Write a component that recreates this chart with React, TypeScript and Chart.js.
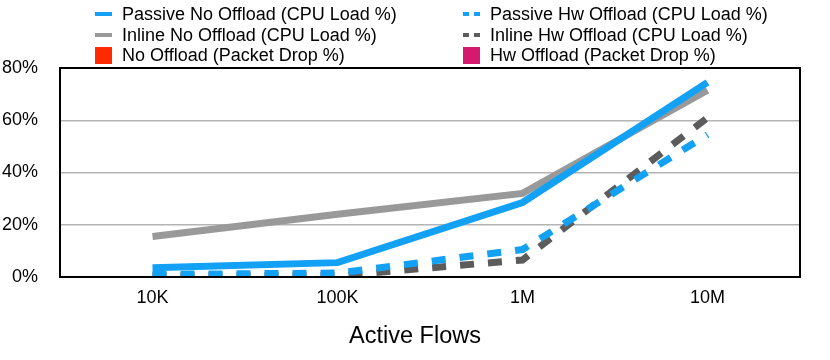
import React, { useEffect, useRef } from "react";
import { Chart, registerables } from "chart.js";

Chart.register(...registerables);

const categories = ["10K", "100K", "1M", "10M"];
const passiveNoOffload = [3.5, 5.5, 28.5, 74.5];
const passiveHwOffload = [1, 1.5, 10.5, 54.5];
const inlineNoOffload = [15.5, 24, 32, 71.5];
const inlineHwOffload = [0.5, 0.5, 6.5, 61];
const noOffloadDrop = [0, 0, 0, 0];
const hwOffloadDrop = [0, 0, 0, 0];
const yTicks = [0, 20, 40, 60, 80];
const xTitle = "Active Flows";

const FONT = "'Liberation Sans', Arial, Helvetica, sans-serif";
const BLUE = "#12A1F4";
const GRAY = "#999999";
const DARK = "#5c5c5c";
const RED = "#FF2A00";
const MAGENTA = "#D6196F";

type LegendItem = { label: string; color: string; kind: "line" | "dash" | "box" };

const legendCol1: LegendItem[] = [
  { label: "Passive No Offload (CPU Load %)", color: BLUE, kind: "line" },
  { label: "Inline No Offload (CPU Load %)", color: GRAY, kind: "line" },
  { label: "No Offload (Packet Drop %)", color: RED, kind: "box" },
];
const legendCol2: LegendItem[] = [
  { label: "Passive Hw Offload (CPU Load %)", color: BLUE, kind: "dash" },
  { label: "Inline Hw Offload (CPU Load %)", color: DARK, kind: "dash" },
  { label: "Hw Offload (Packet Drop %)", color: MAGENTA, kind: "box" },
];

function Marker({ item }: { item: LegendItem }) {
  if (item.kind === "box") {
    return <div style={{ width: 17, height: 17, background: item.color }} />;
  }
  if (item.kind === "dash") {
    return (
      <div style={{ width: 17, height: 4, display: "flex", justifyContent: "space-between" }}>
        <div style={{ width: 6, height: 4, background: item.color }} />
        <div style={{ width: 6, height: 4, background: item.color }} />
      </div>
    );
  }
  return <div style={{ width: 17, height: 4, background: item.color }} />;
}

function LegendColumn({ items, left }: { items: LegendItem[]; left: number }) {
  return (
    <div style={{ position: "absolute", left, top: 4 }}>
      {items.map((it) => (
        <div key={it.label} style={{ display: "flex", alignItems: "center", height: 20.5 }}>
          <div style={{ width: 27, display: "flex", alignItems: "center" }}>
            <Marker item={it} />
          </div>
          <span style={{ fontFamily: FONT, fontSize: 18, lineHeight: "20px", color: "#000", whiteSpace: "nowrap" }}>
            {it.label}
          </span>
        </div>
      ))}
    </div>
  );
}

const borderPlugin = {
  id: "plotBorder",
  afterDatasetsDraw(chart: any) {
    const { ctx, chartArea } = chart;
    ctx.save();
    ctx.strokeStyle = "#000";
    ctx.lineWidth = 2;
    ctx.strokeRect(chartArea.left, chartArea.top, chartArea.right - chartArea.left, chartArea.bottom - chartArea.top);
    ctx.restore();
  },
};

export default function App() {
  const ref = useRef<HTMLCanvasElement | null>(null);

  useEffect(() => {
    if (!ref.current) return;
    const common = {
      borderWidth: 7,
      pointRadius: 0,
      pointHoverRadius: 0,
      fill: false,
      tension: 0,
      borderCapStyle: "butt" as const,
      borderJoinStyle: "miter" as const,
    };
    const chart = new Chart(ref.current, {
      type: "line",
      data: {
        labels: categories,
        datasets: [
          { ...common, label: "Passive No Offload (CPU Load %)", data: passiveNoOffload, borderColor: BLUE, backgroundColor: BLUE },
          { ...common, label: "Inline No Offload (CPU Load %)", data: inlineNoOffload, borderColor: GRAY, backgroundColor: GRAY },
          { ...common, label: "Passive Hw Offload (CPU Load %)", data: passiveHwOffload, borderColor: BLUE, backgroundColor: BLUE, borderDash: [14, 14] },
          { ...common, label: "Inline Hw Offload (CPU Load %)", data: inlineHwOffload, borderColor: DARK, backgroundColor: DARK, borderDash: [14, 14] },
          { type: "bar", label: "No Offload (Packet Drop %)", data: noOffloadDrop, backgroundColor: RED, borderWidth: 0 } as any,
          { type: "bar", label: "Hw Offload (Packet Drop %)", data: hwOffloadDrop, backgroundColor: MAGENTA, borderWidth: 0 } as any,
        ],
      },
      options: {
        responsive: false,
        animation: false,
        layout: { padding: { top: 68, right: 30, left: 0, bottom: 0 } },
        plugins: { legend: { display: false }, tooltip: { enabled: false } },
        scales: {
          x: {
            type: "category",
            offset: true,
            grid: { display: false, drawTicks: false },
            border: { display: false },
            ticks: { color: "#000", font: { family: FONT, size: 18 }, padding: 10, maxRotation: 0 },
            title: { display: false },
            afterFit: (s: any) => {
              s.height = 83;
            },
          },
          y: {
            min: 0,
            max: 80,
            afterBuildTicks: (s: any) => {
              s.ticks = yTicks.map((v) => ({ value: v }));
            },
            grid: {
              drawTicks: false,
              lineWidth: 1.5,
              color: (c: any) => (c.tick && (c.tick.value === 0 || c.tick.value === 80) ? "rgba(0,0,0,0)" : "#b4b4b4"),
            },
            border: { display: false },
            ticks: {
              color: "#000",
              font: { family: FONT, size: 18 },
              padding: 22,
              callback: (v: any) => v + "%",
            },
            afterFit: (s: any) => {
              s.width = 60;
            },
          },
        },
      },
      plugins: [borderPlugin],
    });
    return () => chart.destroy();
  }, []);

  return (
    <div style={{ position: "absolute", left: 0, top: 0, width: 830, height: 360, background: "#fff" }}>
      <canvas ref={ref} width={830} height={360} style={{ position: "absolute", left: 0, top: 0 }} />
      <LegendColumn items={legendCol1} left={95} />
      <LegendColumn items={legendCol2} left={463} />
      <div
        style={{
          position: "absolute",
          left: 0,
          top: 321,
          width: 830,
          textAlign: "center",
          fontFamily: FONT,
          fontSize: 23.5,
          lineHeight: "28px",
          color: "#000",
        }}
      >
        {xTitle}
      </div>
    </div>
  );
}
